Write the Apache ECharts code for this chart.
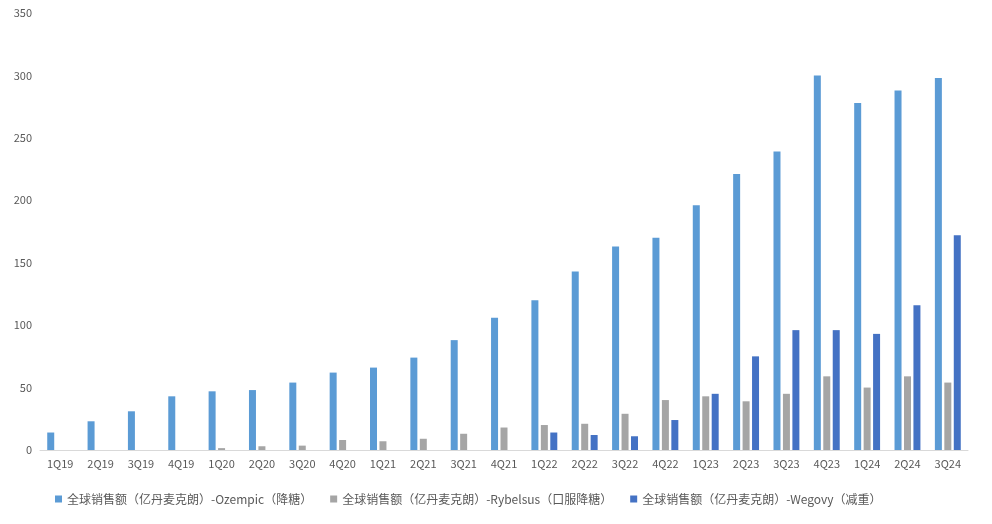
<!DOCTYPE html>
<html><head><meta charset="utf-8">
<script src="https://cdn.jsdelivr.net/npm/echarts@6/dist/echarts.min.js"></script>
<style>html,body{margin:0;padding:0;background:#fff}#c{width:992px;height:524px}</style>
</head><body><div id="c"></div>
<script>
const categories=['1Q19','2Q19','3Q19','4Q19','1Q20','2Q20','3Q20','4Q20','1Q21','2Q21','3Q21','4Q21','1Q22','2Q22','3Q22','4Q22','1Q23','2Q23','3Q23','4Q23','1Q24','2Q24','3Q24'];
const ozempic=[14,23,31,43,47,48,54,62,66,74,88,106,120,143,163,170,196,221,239,300,278,288,298];
const rybelsus=[null,null,null,null,1.5,3,3.5,8,7,9,13,18,20,21,29,40,43,39,45,59,50,59,54];
const wegovy=[null,null,null,null,null,null,null,null,null,null,null,null,14,12,11,24,45,75,96,96,93,116,172];
const names=['全球销售额（亿丹麦克朗）-Ozempic（降糖）','全球销售额（亿丹麦克朗）-Rybelsus（口服降糖）','全球销售额（亿丹麦克朗）-Wegovy（减重）'];
const colors=['#5B9BD5','#A5A5A5','#4472C4'];
const chart=echarts.init(document.getElementById('c'));
const font='"Microsoft YaHei","Noto Sans CJK SC",sans-serif';
chart.setOption({
  animation:false,
  textStyle:{fontFamily:font},
  grid:{left:40,right:24,top:13,bottom:74},
  legend:{bottom:14,left:50,itemWidth:7,itemHeight:7,itemGap:18,textStyle:{fontSize:12,color:'#595959'},icon:'rect'},
  xAxis:{type:'category',data:categories,axisTick:{show:false},axisLine:{lineStyle:{color:'#d9d9d9'}},axisLabel:{color:'#595959',fontSize:11}},
  yAxis:{type:'value',min:0,max:350,interval:50,splitLine:{show:false},axisLine:{show:false},axisLabel:{color:'#595959',fontSize:11}},
  series:[ozempic,rybelsus,wegovy].map((d,i)=>({type:'bar',name:names[i],data:d,itemStyle:{color:colors[i]},barWidth:7,barGap:'35%'}))
});
</script></body></html>
